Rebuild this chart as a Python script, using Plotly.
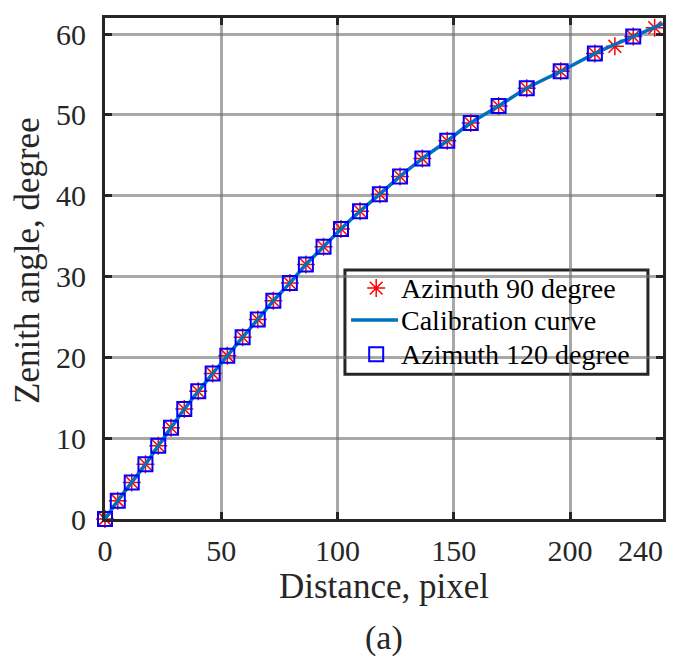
import plotly.graph_objects as go

# Azimuth 120 degree (squares)
az120_x = [0, 5.5, 11.5, 17.4, 22.9, 28.4, 34.1, 40.1, 46.3, 52.6, 59.2, 65.7, 72.4,
           79.5, 86.4, 94.0, 101.5, 109.7, 118.2, 126.9, 136.5, 147.2, 157.3, 169.3,
           181.4, 196.0, 210.7, 227.2]
az120_y = [0, 2.26, 4.53, 6.79, 9.05, 11.3, 13.6, 15.8, 18.0, 20.2, 22.5, 24.7, 27.0,
           29.2, 31.5, 33.7, 35.9, 38.1, 40.2, 42.4, 44.6, 46.8, 49.0, 51.1,
           53.3, 55.4, 57.6, 59.7]

# Azimuth 90 degree (stars)
az90_x = az120_x[:27] + [219.3, 227.2, 236.4]
az90_y = az120_y[:27] + [58.5, 59.7, 60.8]

# Calibration curve
curve_x = az120_x + [240]
curve_y = az120_y + [61.3]

x_ticks = [0, 50, 100, 150, 200, 240]
x_ticktext = ["0", "50", "100", "150", "200", "240\u2002\u2002\u2002"]
y_ticks = [0, 10, 20, 30, 40, 50, 60]

legend_names = ["Azimuth 90 degree", "Calibration curve", "Azimuth 120 degree"]

FONT = "Liberation Serif"
TXT = "#262626"
RED = "#ff0000"
BLUE = "#0000ff"
CURVE = "#0072BD"

star_marker = dict(symbol="asterisk-open", size=15, color=RED, line=dict(color=RED, width=1.5))
square_marker = dict(symbol="square-open", size=14, color=BLUE, line=dict(color=BLUE, width=2))

fig = go.Figure()
fig.add_trace(go.Scatter(x=az90_x, y=az90_y, mode="markers", name=legend_names[0],
                         marker=star_marker, cliponaxis=False, showlegend=False))
fig.add_trace(go.Scatter(x=curve_x, y=curve_y, mode="lines", name=legend_names[1],
                         line=dict(color=CURVE, width=3.5, shape="spline"),
                         cliponaxis=False, showlegend=False))
fig.add_trace(go.Scatter(x=az120_x, y=az120_y, mode="markers", name=legend_names[2],
                         marker=square_marker, cliponaxis=False, showlegend=False))

# --- hand-built legend (overlay axes spanning the plot area, 0..1) ---
leg_left, leg_right, leg_bottom, leg_top = 0.430, 0.973, 0.289, 0.497
row_y = [0.461, 0.397, 0.329]
sym_x = 0.486
line_x0, line_x1 = 0.441, 0.525
text_x = 0.526

fig.add_trace(go.Scatter(x=[sym_x], y=[row_y[0]], mode="markers", marker=star_marker,
                         xaxis="x2", yaxis="y2", cliponaxis=False, showlegend=False,
                         hoverinfo="skip"))
fig.add_trace(go.Scatter(x=[line_x0, line_x1], y=[row_y[1], row_y[1]], mode="lines",
                         line=dict(color=CURVE, width=3.5),
                         xaxis="x2", yaxis="y2", cliponaxis=False, showlegend=False,
                         hoverinfo="skip"))
fig.add_trace(go.Scatter(x=[sym_x], y=[row_y[2]], mode="markers", marker=square_marker,
                         xaxis="x2", yaxis="y2", cliponaxis=False, showlegend=False,
                         hoverinfo="skip"))

axis_common = dict(
    showgrid=True, gridcolor="rgba(110,110,110,0.6)", gridwidth=3,
    showline=True, linecolor=TXT, linewidth=3, mirror="ticks",
    ticks="inside", ticklen=7, tickwidth=3, tickcolor=TXT,
    zeroline=False, ticklabeloverflow="allow", automargin=False,
    tickfont=dict(family=FONT, size=30, color=TXT),
)

xaxis = dict(range=[0, 240], tickvals=x_ticks, ticktext=x_ticktext,
             domain=[0, 1], ticklabelstandoff=3, **axis_common)
yaxis = dict(range=[0, 62], tickvals=y_ticks, ticktext=[str(v) for v in y_ticks],
             domain=[0, 1], ticklabelstandoff=10, **axis_common)

annotations = [
    dict(text="Distance, pixel", x=0.5, y=-0.1357, xref="paper", yref="paper",
         xanchor="center", yanchor="middle", showarrow=False,
         font=dict(family=FONT, size=35, color=TXT)),
    dict(text="Zenith angle, degree", x=-0.138, y=0.517, xref="paper", yref="paper",
         xanchor="center", yanchor="middle", showarrow=False, textangle=-90,
         font=dict(family=FONT, size=35, color=TXT)),
    dict(text="(a)", x=0.5, y=-0.2375, xref="paper", yref="paper",
         xanchor="center", yanchor="middle", showarrow=False,
         font=dict(family=FONT, size=34, color=TXT)),
]
for name, ry in zip(legend_names, row_y):
    annotations.append(dict(text=name, x=text_x, y=ry, xref="paper", yref="paper",
                            xanchor="left", yanchor="middle", showarrow=False,
                            font=dict(family=FONT, size=28, color="#000000")))

fig.update_layout(
    width=685, height=658,
    margin=dict(l=97, r=30, t=10, b=147, autoexpand=False),
    paper_bgcolor="white", plot_bgcolor="white",
    showlegend=False,
    xaxis=xaxis, yaxis=yaxis,
    xaxis2=dict(overlaying="x", range=[0, 1], visible=False, anchor="y2"),
    yaxis2=dict(overlaying="y", range=[0, 1], visible=False, anchor="x2"),
    shapes=[dict(type="rect", xref="paper", yref="paper",
                 x0=leg_left, x1=leg_right, y0=leg_bottom, y1=leg_top,
                 fillcolor="white", line=dict(color=TXT, width=3), layer="between")],
    annotations=annotations,
)

fig.write_html("out.html")
